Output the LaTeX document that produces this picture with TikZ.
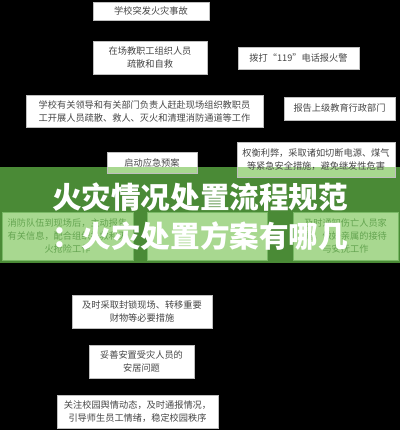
\documentclass[tikz,border=0pt]{standalone}
\usepackage{fontspec}
\usepackage{tikz}
\usetikzlibrary{arrows.meta, positioning}
\newfontfamily\cjk{Noto Sans CJK SC}
\definecolor{night}{RGB}{0,0,0}
\definecolor{bandshade}{RGB}{74,138,54}
\definecolor{boxshade}{RGB}{168,216,144}
\definecolor{boxtext}{RGB}{70,70,70}
\definecolor{fadetext}{RGB}{100,164,80}
\definecolor{fadeborder}{RGB}{121,185,101}

\pgfdeclarelayer{back}
\pgfdeclarelayer{lines}
\pgfdeclarelayer{band}
\pgfsetlayers{back,lines,band,main}

\tikzset{
  stepbox/.style={draw=gray!50, line width=0.3pt, fill=white, text=boxtext,
    align=center, inner sep=0pt, font=\cjk\fontsize{9.2}{13}\selectfont},
  banded/.style={stepbox, fill=boxshade, draw=fadeborder, text=fadetext},
  halfband/.style={path picture={\fill [boxshade] (path picture bounding box.south west)
    rectangle (path picture bounding box.east |- bandtop);}},
  flow/.style={-{Latex[length=3pt]}, draw=night, line width=0.4pt}
}

\begin{document}
\begin{tikzpicture}[x=1pt, y=-1pt]

    \begin{pgfonlayer}{back}
      \fill [night] (0,0) rectangle (400,430);
    \end{pgfonlayer}
    \useasboundingbox (0,0) rectangle (400,430);

    % title band
    \coordinate (bandtop) at (0,167);
    \coordinate (bandbottom) at (400,263);
    \begin{pgfonlayer}{band}
      \fill [bandshade] (bandtop) rectangle (bandbottom);
    \end{pgfonlayer}

    \node [stepbox, minimum width=116pt, minimum height=18pt] (fire) at (151,11) {学校突发火灾事故};
    \node [stepbox, minimum width=114pt, minimum height=33pt] (selfhelp) at (150,57.5) {在场教职工组织人员\\疏散和自救};
    \node [stepbox, minimum width=121pt, minimum height=22pt] (alarm) at (298.5,58) {拨打“119”电话报火警};
    \node [stepbox, minimum width=237pt, minimum height=32pt] (leaders) at (144.5,111) {学校有关领导和有关部门负责人赶赴现场组织教职员\\工开展人员疏散、救人、灭火和清理消防通道等工作};
    \node [stepbox, minimum width=111pt, minimum height=23pt] (report) at (339.5,108.5) {报告上级教育行政部门};
    \node [stepbox, halfband, minimum width=90pt, minimum height=21pt] (plan) at (152,162.5) {启动应急预案};
    \node [stepbox, halfband, minimum width=158pt, minimum height=35pt] (safety) at (316,159.5) {权衡利弊，采取诸如切断电源、煤气\\等紧急安全措施，避免继发性危害};

    \node [banded, minimum width=131pt, minimum height=48pt] (brigade) at (67.5,236) {消防队伍到现场后，主动报告\\有关信息，配合组织扑救和灭\\火抢险工作};
    \node [banded, minimum width=120pt, minimum height=48pt] (rescue) at (207,236) {};
    \node [banded, minimum width=105pt, minimum height=48pt] (family) at (345.5,236) {及时通知伤亡人员家\\属，做好亲属的接待\\与安抚工作};

    \node [stepbox, minimum width=140pt, minimum height=33pt] (seal) at (142,311.5) {及时采取封锁现场、转移重要\\财物等必要措施};
    \node [stepbox, minimum width=105pt, minimum height=33pt] (settle) at (141.5,361.5) {妥善安置受灾人员的\\安居问题};
    \node [stepbox, minimum width=161pt, minimum height=33pt] (opinion) at (137.5,411.5) {关注校园舆情动态，及时通报情况，\\引导师生员工情绪，稳定校园秩序};

    % connectors, black on black
    \begin{pgfonlayer}{lines}
      \draw [flow] (fire) -- (selfhelp);
      \draw [flow] (selfhelp) -- (alarm);
      \draw [flow] (selfhelp) -- (leaders);
      \draw [flow] (leaders) -- (report);
      \draw [flow] (leaders) -- (plan);
      \draw [flow] (plan) -- (safety);
      \foreach \t in {brigade, rescue, family}
        \draw [flow] (plan) -- (\t);
      \draw [flow] (rescue) -- (seal);
      \draw [flow] (seal) -- (settle);
      \draw [flow] (settle) -- (opinion);
    \end{pgfonlayer}

    \node [text=white, font=\cjk\bfseries\fontsize{29.6}{30}\selectfont, inner sep=0pt] (title-1) at (200,197) {火灾情况处置流程规范};
    \node [text=white, font=\cjk\bfseries\fontsize{29.6}{30}\selectfont, inner sep=0pt] (title-2) at (200,236) {：火灾处置方案有哪几};

\end{tikzpicture}
\end{document}
